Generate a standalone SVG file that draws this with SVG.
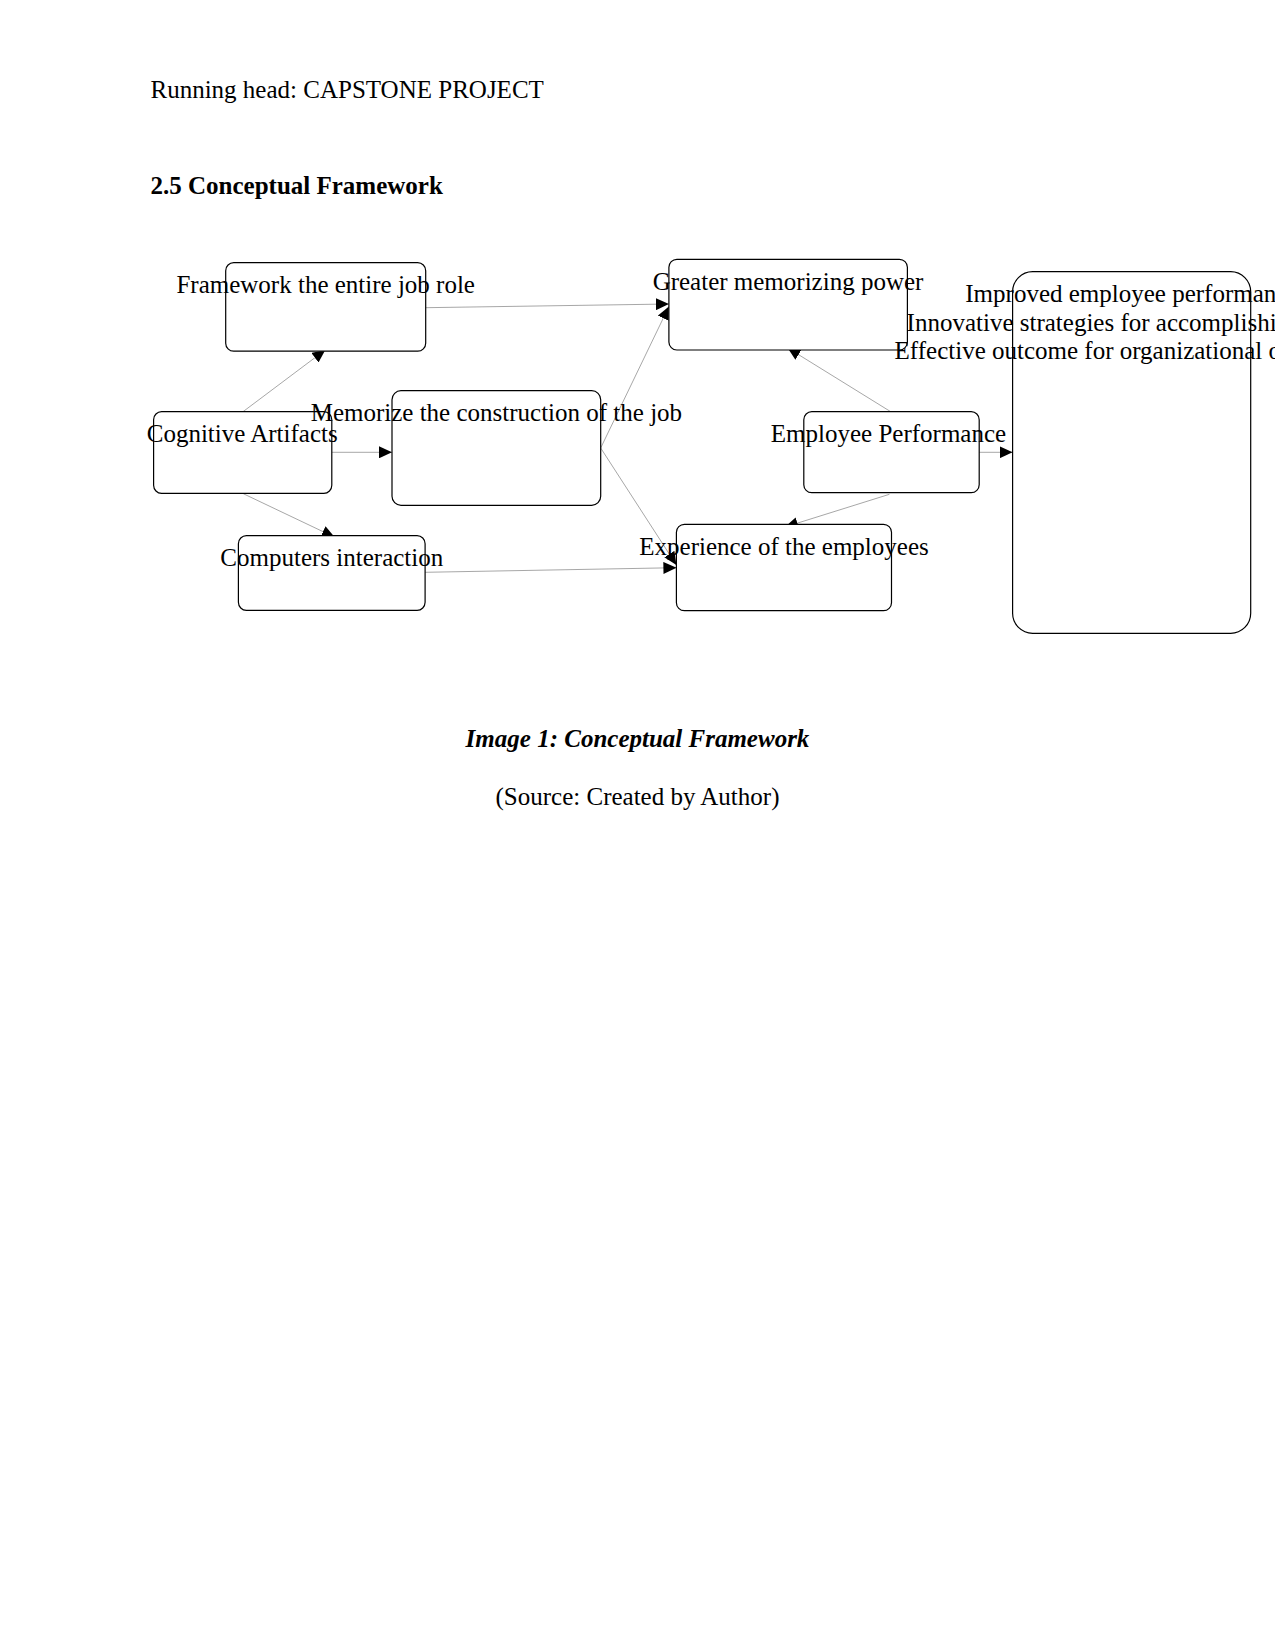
<svg xmlns="http://www.w3.org/2000/svg" width="1275" height="1651" viewBox="0 0 1275 1651">
<defs>
<style>
.t{font-family:"Liberation Serif","Times New Roman",serif;font-size:25px;fill:#000}
.c{text-anchor:middle}
.b{font-weight:bold}
.bi{font-weight:bold;font-style:italic}
.box{fill:#fff;stroke:#000;stroke-width:1.2}
.ln{fill:none;stroke:#909090;stroke-width:0.8;marker-end:url(#ah)}
</style>
<marker id="ah" markerUnits="userSpaceOnUse" markerWidth="13" markerHeight="12" viewBox="0 0 13 12" refX="13" refY="6" orient="auto">
<path d="M0,0 L13,6 L0,12 z" fill="#000"/>
</marker>
</defs>
<rect width="1275" height="1651" fill="#fff"/>
<text class="t" x="150.5" y="98">Running head: CAPSTONE PROJECT</text>
<text class="t b" x="150.5" y="193.5">2.5 Conceptual Framework</text>

<g id="connectors">
<path class="ln" d="M243,411.7 L325.3,349.9"/>
<path class="ln" d="M331.8,452.3 L392,452.3"/>
<path class="ln" d="M243.3,493.7 L334.7,537.2"/>
<path class="ln" d="M425.7,307.7 L668.9,304"/>
<path class="ln" d="M600.7,448 L668.9,306.5"/>
<path class="ln" d="M600.7,448 L676.4,565"/>
<path class="ln" d="M425.1,572.3 L676.4,567.7"/>
<path class="ln" d="M890.7,411.7 L787.5,347.8"/>
<path class="ln" d="M889.4,494.3 L785,527"/>
<path class="ln" d="M979.2,452.3 L1012.6,452.3"/>
</g>

<g id="cognitive-artifacts">
<rect class="box" x="153.6" y="411.7" width="178.2" height="81.6" rx="8"/>
<text class="t c" x="242.2" y="441.5">Cognitive Artifacts</text>
</g>
<g id="framework-job-role">
<rect class="box" x="225.7" y="262.7" width="200" height="88.5" rx="8"/>
<text class="t c" x="325.7" y="292.7">Framework the entire job role</text>
</g>
<g id="computers-interaction">
<rect class="box" x="238.4" y="535.7" width="186.7" height="74.6" rx="8"/>
<text class="t c" x="331.8" y="565.5">Computers interaction</text>
</g>
<g id="memorize-construction">
<rect class="box" x="392" y="390.7" width="208.7" height="114.6" rx="9"/>
<text class="t c" x="496.4" y="420.5">Memorize the construction of the job</text>
</g>
<g id="greater-memorizing">
<rect class="box" x="668.9" y="259.3" width="238.5" height="90.7" rx="8"/>
<text class="t c" x="788" y="289.8">Greater memorizing power</text>
</g>
<g id="employee-performance">
<rect class="box" x="803.8" y="411.7" width="175.4" height="81" rx="8"/>
<text class="t c" x="888.5" y="441.5">Employee Performance</text>
</g>
<g id="experience-employees">
<rect class="box" x="676.4" y="524.3" width="215.1" height="86.4" rx="8"/>
<text class="t c" x="784" y="554.8">Experience of the employees</text>
</g>
<g id="improved-performance">
<rect class="box" x="1012.6" y="271.7" width="238.1" height="361.6" rx="20"/>
<text class="t" x="965.3" y="302.2">Improved employee performan</text>
<text class="t" x="906.6" y="330.7">Innovative strategies for accomplishi</text>
<text class="t" x="894.6" y="359">Effective outcome for organizational o</text>
</g>

<text class="t c bi" x="637.5" y="746.7">Image 1: Conceptual Framework</text>
<text class="t c" x="637.5" y="804.5">(Source: Created by Author)</text>
</svg>
